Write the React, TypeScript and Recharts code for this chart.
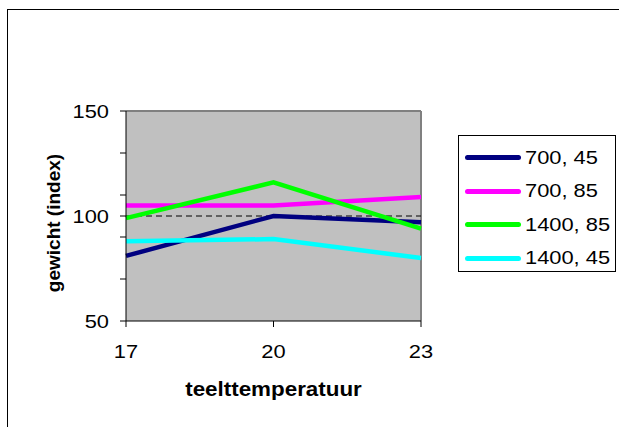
import React from 'react';
import {
  LineChart,
  Line,
  XAxis,
  YAxis,
  CartesianGrid,
  ReferenceLine,
} from 'recharts';

const temperatures = [17, 20, 23];
const s700_45 = [81, 100, 97];
const s700_85 = [105, 105, 109];
const s1400_85 = [99, 116, 94];
const s1400_45 = [88, 89, 80];

const yTicks = [50, 70, 90, 100, 110, 130, 150];
const yLabels = [50, 100, 150];

const series = [
  { key: 'a', name: '700, 45', color: '#000080', values: s700_45 },
  { key: 'b', name: '700, 85', color: '#FF00FF', values: s700_85 },
  { key: 'c', name: '1400, 85', color: '#00FF00', values: s1400_85 },
  { key: 'd', name: '1400, 45', color: '#00FFFF', values: s1400_45 },
];

const data = temperatures.map((t, i) => {
  const row: Record<string, number> = { t };
  series.forEach((s) => {
    row[s.key] = s.values[i];
  });
  return row;
});

const FONT = '"Liberation Sans", Arial, sans-serif';
// the original's horizontal text is a little stretched
const STRETCH = 1.15;

const XTick = ({ x, y, payload }: any) => (
  <g transform={`translate(${x},${y})`}>
    <text transform={`scale(${STRETCH},1)`} textAnchor="middle" dy="0.71em" fontSize={19} fill="#000">
      {payload.value}
    </text>
  </g>
);

const YTick = ({ x, y, payload }: any) =>
  yLabels.includes(payload.value) ? (
    <g transform={`translate(${x},${y})`}>
      <text transform={`scale(${STRETCH},1)`} textAnchor="end" dy="0.355em" fontSize={19} fill="#000">
        {payload.value}
      </text>
    </g>
  ) : null;

const XTitle = ({ viewBox }: any) => {
  const cx = viewBox ? viewBox.x + viewBox.width / 2 : 273;
  const by = viewBox ? viewBox.y + viewBox.height - 5 : 396;
  return (
    <g transform={`translate(${cx},${by})`}>
      <text transform="scale(1.12,1)" textAnchor="middle" fontSize={20} fontWeight="bold" fill="#000">
        teelttemperatuur
      </text>
    </g>
  );
};

const YTitle = () => (
  <text
    x={53}
    y={223}
    transform="rotate(-90, 53, 223)"
    textAnchor="middle"
    dominantBaseline="central"
    fontFamily={FONT}
    fontSize={19}
    fontWeight="bold"
    fill="#000"
  >
    gewicht (index)
  </text>
);

// legend drawn as a plain box beside the chart (Recharts' Legend would eat plot space)
const LegendBox = () => (
  <div
    style={{
      position: 'absolute',
      left: 458,
      top: 135,
      border: '1px solid #000',
      width: 158,
      height: 137,
      boxSizing: 'border-box',
      paddingTop: 5,
      background: '#fff',
    }}
  >
    {series.map((s) => (
      <div
        key={s.key}
        style={{ display: 'flex', alignItems: 'center', height: 33.5, fontFamily: FONT, fontSize: 19 }}
      >
        <div
          style={{
            width: 56,
            height: 5,
            borderRadius: 2.5,
            background: s.color,
            marginLeft: 6,
            marginRight: 4,
            flexShrink: 0,
          }}
        />
        <span style={{ display: 'inline-block', transform: `scaleX(${STRETCH})`, transformOrigin: 'left center', whiteSpace: 'nowrap' }}>
          {s.name}
        </span>
      </div>
    ))}
  </div>
);

export default function App() {
  return (
    <div style={{ position: 'absolute', left: 0, top: 0, width: 619, height: 427, background: '#fff', overflow: 'hidden' }}>
      <div
        style={{
          position: 'absolute',
          left: 7,
          top: 9,
          right: -2,
          bottom: -2,
          borderLeft: '1px solid #000',
          borderTop: '1px solid #000',
        }}
      />
      <LineChart
        width={619}
        height={427}
        data={data}
        margin={{ top: 111, right: 198, bottom: 26, left: 46 }}
        style={{ fontFamily: FONT }}
      >
        <CartesianGrid fill="#C0C0C0" horizontal={false} vertical={false} />
        <ReferenceLine y={150} stroke="#808080" strokeWidth={2} />
        <ReferenceLine x={23} stroke="#808080" strokeWidth={2} />
        <ReferenceLine y={100} stroke="#000" strokeDasharray="6 4" />
        <XAxis
          dataKey="t"
          type="number"
          domain={[17, 23]}
          ticks={temperatures}
          interval={0}
          height={80}
          tickSize={6}
          tickMargin={18}
          stroke="#000"
          tick={<XTick />}
          label={<XTitle />}
        />
        <YAxis
          type="number"
          domain={[50, 150]}
          ticks={yTicks}
          interval={0}
          width={80}
          tickSize={6}
          tickMargin={11}
          stroke="#000"
          tick={<YTick />}
          label={<YTitle />}
        />
        {series.map((s) => (
          <Line
            key={s.key}
            dataKey={s.key}
            name={s.name}
            stroke={s.color}
            strokeWidth={4.5}
            dot={false}
            isAnimationActive={false}
          />
        ))}
      </LineChart>
      <LegendBox />
    </div>
  );
}
